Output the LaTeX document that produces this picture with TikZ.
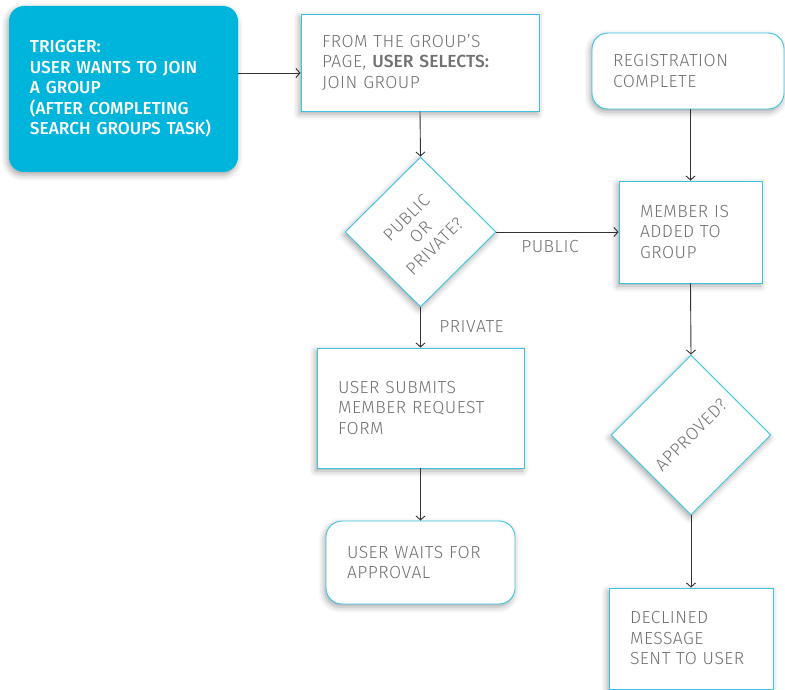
\documentclass[tikz,border=0pt]{standalone}
\usepackage{fontspec}
\setmainfont{Fira Sans Light}[BoldFont={Fira Sans Medium},LetterSpace=3,
  BoldFeatures={LetterSpace=0}]
\usetikzlibrary{shapes.geometric,arrows.meta,shadows.blur}
\definecolor{cyanfill}{HTML}{00B5DC}
\definecolor{cyanline}{HTML}{3CC3E1}
\definecolor{txtgray}{HTML}{707173}
\definecolor{wiregray}{HTML}{333333}
\tikzset{
  softshadow/.style={blur shadow={shadow xshift=-1.5pt,shadow yshift=-3pt,shadow blur radius=6pt,shadow opacity=35}},
  stepbox/.style={draw=cyanline,line width=0.9pt,fill=white,softshadow,
    inner xsep=21pt,inner ysep=0pt,align=left,text=txtgray,
    font=\fontsize{17.5}{20.5}\selectfont},
  roundbox/.style={stepbox,rounded corners=16pt},
  triggerbox/.style={stepbox,draw=none,fill=cyanfill,text=white,rounded corners=15pt,
    font=\fontsize{17.3}{20.5}\selectfont\bfseries},
  choice/.style={diamond,draw=cyanline,line width=0.9pt,fill=white,softshadow,inner sep=0pt},
  choicetext/.style={rotate=45,align=center,text=txtgray,font=\fontsize{17.5}{20}\selectfont},
  flowlabel/.style={text=txtgray,font=\fontsize{17.5}{20.5}\selectfont,inner sep=0pt},
  flow/.style={draw=wiregray,line width=0.9pt,-{Straight Barb[length=4pt,width=9pt]}}
}
\begin{document}
\begin{tikzpicture}[x=1pt,y=-1pt]
\useasboundingbox (0,0) rectangle (785,690);

% trigger
\node[triggerbox,minimum width=229pt,minimum height=166pt,text width=187pt] (trig) at (123.5,89)
  {TRIGGER:\\USER WANTS TO JOIN\\A GROUP\\(AFTER COMPLETING\\SEARCH GROUPS TASK)};

% left column
\node[stepbox,minimum width=238pt,minimum height=97pt,text width=196pt] (join) at (420,62.5)
  {FROM THE GROUP'S\\PAGE, \textbf{USER SELECTS:}\\JOIN GROUP};
\node[choice,minimum width=151pt,minimum height=150pt] (pub) at (420.5,232) {};
\node[choicetext] at (pub.center) {PUBLIC\\OR\\PRIVATE?};
\node[stepbox,minimum width=207pt,minimum height=120pt,text width=165pt] (submit) at (420.5,408)
  {USER SUBMITS\\MEMBER REQUEST\\FORM};
\node[roundbox,minimum width=189pt,minimum height=83pt,text width=147pt] (wait) at (420.5,562.5)
  {USER WAITS FOR\\APPROVAL};

% right column
\node[roundbox,minimum width=192pt,minimum height=76pt,text width=150pt] (reg) at (688,71)
  {REGISTRATION\\COMPLETE};
\node[stepbox,minimum width=143pt,minimum height=102pt,text width=101pt] (member) at (690.5,232)
  {MEMBER IS\\ADDED TO\\GROUP};
\node[choice,minimum width=160pt,minimum height=160pt] (appr) at (691,435) {};
\node[choicetext] at (appr.center) {APPROVED?};
\node[stepbox,minimum width=164pt,minimum height=101pt,text width=122pt] (decl) at (691,638.5)
  {DECLINED\\MESSAGE\\SENT TO USER};

% connectors
\draw[flow] (trig.east |- 0,73) -- (join.west |- 0,73);
\draw[flow] (join.south) -- (pub.north);
\draw[flow] (pub.east) -- (member.west);
\draw[flow] (pub.south) -- (submit.north);
\draw[flow] (submit.south) -- (wait.north);
\draw[flow] (reg.south -| member.north) -- (member.north);
\draw[flow] (member.south) -- (appr.north);
\draw[flow] (appr.south) -- (decl.north);

% branch labels
\node[flowlabel] (lpub) at (550,247) {PUBLIC};
\node[flowlabel] (lpriv) at (471.5,327) {PRIVATE};
\end{tikzpicture}
\end{document}
